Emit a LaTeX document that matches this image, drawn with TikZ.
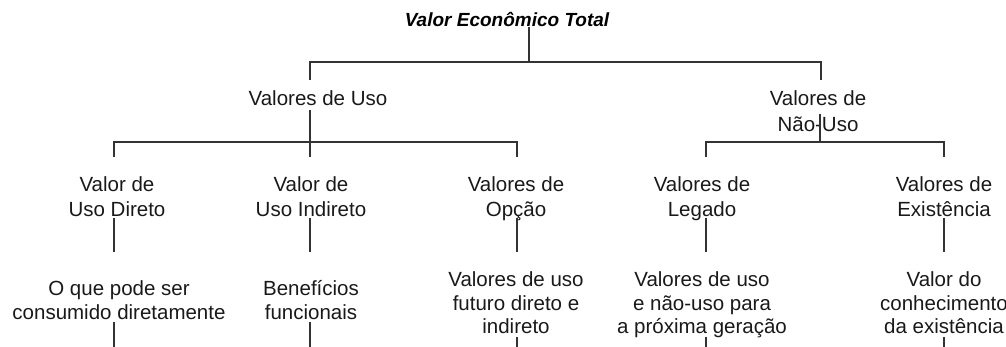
\documentclass[tikz,border=0pt]{standalone}
\usepackage{fontspec}
\setmainfont{Liberation Sans}
\newcommand\mylines[1]{\begin{tabular}[t]{@{}c@{}}#1\end{tabular}}
\begin{document}
\begin{tikzpicture}[x=1pt,y=-1pt,
  lab/.style={anchor=base,inner sep=0pt,text=black!90,font=\fontsize{20.5}{24.5}\selectfont},
  ttl/.style={anchor=base,inner sep=0pt,text=black,font=\fontsize{19}{22}\selectfont\bfseries\itshape},
  conn/.style={line width=1.4pt,draw=black!80}]
\useasboundingbox (0,0) rectangle (1006,347);
\clip (0,0) rectangle (1006,347);
% nodes
\node[ttl] (vet) at (507,27) {Valor Econômico Total};
\node[lab] (vu) at (318,106) {Valores de Uso};
\node[lab,font=\fontsize{20.5}{26}\selectfont] (vnu) at (818,106) {\mylines{Valores de\\Não-Uso}};
\node[lab] (vud) at (117,192) {\mylines{Valor de\\Uso Direto}};
\node[lab] (vui) at (311,192) {\mylines{Valor de\\Uso Indireto}};
\node[lab] (vo) at (516,192) {\mylines{Valores de\\Opção}};
\node[lab] (vl) at (702,192) {\mylines{Valores de\\Legado}};
\node[lab] (ve) at (944,192) {\mylines{Valores de\\Existência}};
\node[lab] (d1) at (119,295) {\mylines{O que pode ser\\consumido diretamente}};
\node[lab] (d2) at (311,295) {\mylines{Benefícios\\funcionais}};
\node[lab,font=\fontsize{20.5}{23.5}\selectfont] (d3) at (516,287) {\mylines{Valores de uso\\futuro direto e\\indireto}};
\node[lab,font=\fontsize{20.5}{23.5}\selectfont] (d4) at (702,287) {\mylines{Valores de uso\\e não-uso para\\a próxima geração}};
\node[lab,font=\fontsize{20.5}{23.5}\selectfont] (d5) at (944,287) {\mylines{Valor do\\conhecimento\\da existência}};
% junction coordinates
\coordinate (j0) at (529,62);
\coordinate (jl) at (310,62);
\coordinate (jr) at (821,62);
\coordinate (ju) at (310,142);
\coordinate (jn) at (820,142);
\coordinate (x1) at (114,0);
\coordinate (x2) at (310,0);
\coordinate (x3) at (517,0);
\coordinate (x4) at (706,0);
\coordinate (x5) at (944,0);
\coordinate (y80) at (0,80);
\coordinate (y142) at (0,142);
\coordinate (y157) at (0,157);
\coordinate (y218) at (0,218);
\coordinate (y252) at (0,252);
\coordinate (yb) at (0,352);
% level 0 -> 1
\draw[conn] (vet.base -| j0) -- (j0);
\draw[conn] (jl |- y80) -- (jl) -- (jr) -- (jr |- y80);
% level 1 -> 2 (uso)
\draw[conn] ([yshift=-4pt]vu.base -| ju) -- (x2 |- y157);
\draw[conn] (x1 |- y157) -- (x1 |- y142) -- (x3 |- y142) -- (x3 |- y157);
% level 1 -> 2 (nao-uso)
\draw[conn] ([yshift=-8pt]vnu.base -| jn) -- (jn);
\draw[conn] (x4 |- y157) -- (x4 |- y142) -- (x5 |- y142) -- (x5 |- y157);
% level 2 -> 3
\foreach \c in {x1,x2,x3,x4,x5}{
  \draw[conn] (\c |- y218) -- (\c |- y252);
}
% level 3 -> below
\draw[conn] ([yshift=-27pt]d1.base -| x1) -- (x1 |- yb);
\draw[conn] ([yshift=-27pt]d2.base -| x2) -- (x2 |- yb);
\draw[conn] ([yshift=-50pt]d3.base -| x3) -- (x3 |- yb);
\draw[conn] ([yshift=-50pt]d4.base -| x4) -- (x4 |- yb);
\draw[conn] ([yshift=-50pt]d5.base -| x5) -- (x5 |- yb);
\end{tikzpicture}
\end{document}
